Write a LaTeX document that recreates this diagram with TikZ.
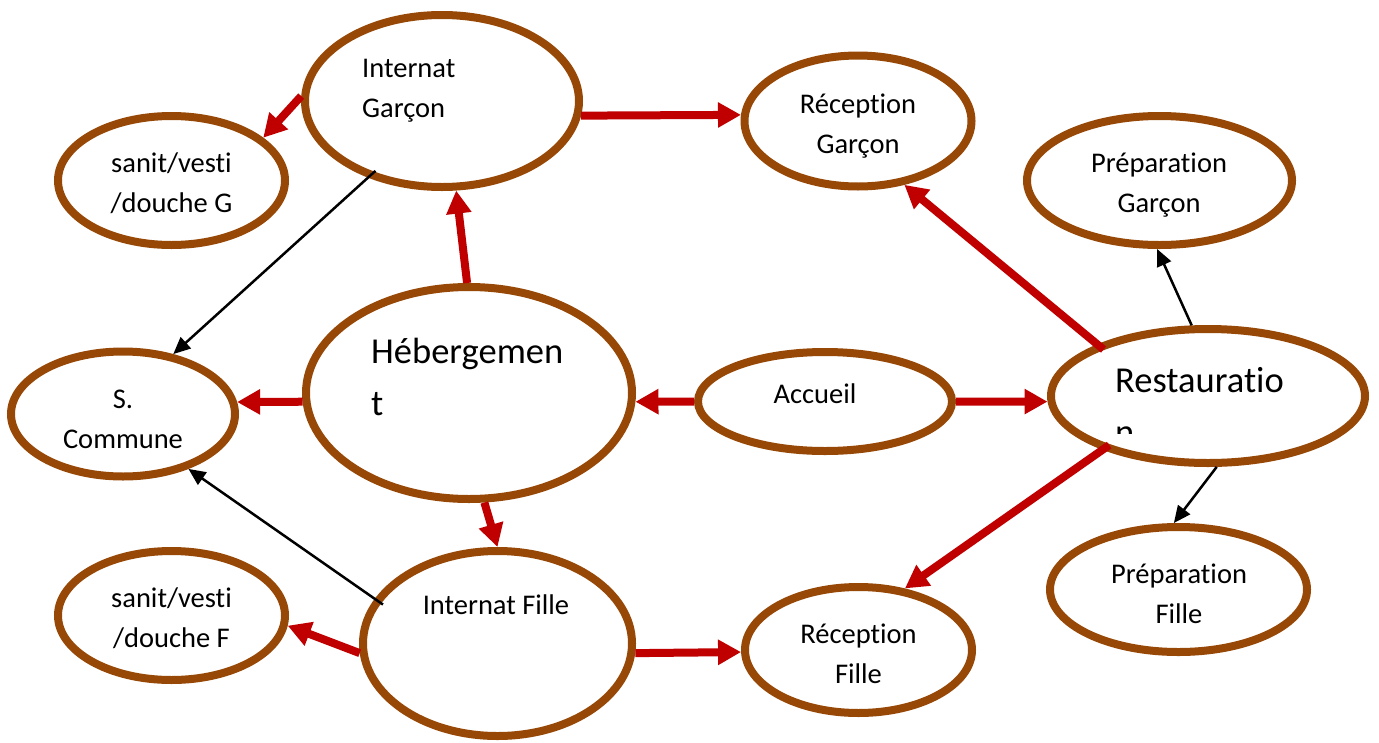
\documentclass[tikz,border=0pt]{standalone}
\usepackage{fontspec}
\setmainfont{Carlito}[Ligatures={NoCommon,NoRequired,NoContextual,NoDiscretionary}]
\usetikzlibrary{arrows.meta,shapes.geometric}
\definecolor{rim}{HTML}{974806}
\definecolor{flow}{HTML}{C00000}

\begin{document}
\begin{tikzpicture}[x=1pt,y=-1pt,
  room/.style={ellipse, draw=rim, line width=8pt, fill=white, inner sep=0pt},
  flowarrow/.style={draw=flow, line width=8pt, -{Triangle[length=23pt,width=24pt]}},
  linkarrow/.style={draw=black, line width=2.5pt, -{Triangle[length=17pt,width=15pt]}},
  small/.style={font=\fontsize{28.5}{40}\selectfont},
  big/.style={font=\fontsize{36.5}{52}\selectfont},
  lbl/.style={inner sep=0pt, anchor=base}
]
\useasboundingbox[fill=white] (0,0) rectangle (1379,742);

% rooms
\node[room, minimum width=274pt, minimum height=172pt] (intG)  at (442,101)   {};
\node[room, minimum width=227pt, minimum height=131pt] (recG)  at (858,121)   {};
\node[room, minimum width=227pt, minimum height=129pt] (sanG)  at (171.5,180.5) {};
\node[room, minimum width=265pt, minimum height=129pt] (prepG) at (1159.5,180.5) {};
\node[room, minimum width=224pt, minimum height=125pt] (comm)  at (123,414)   {};
\node[room, minimum width=326pt, minimum height=212pt] (heb)   at (469,393)   {};
\node[room, minimum width=254pt, minimum height=99pt]  (acc)   at (825,401.5) {};
\node[room, minimum width=314pt, minimum height=134pt] (rest)  at (1208,396)  {};
\node[room, minimum width=227pt, minimum height=129pt] (sanF)  at (171.5,615.5) {};
\node[room, minimum width=269pt, minimum height=185pt] (intF)  at (497.5,643.5) {};
\node[room, minimum width=227pt, minimum height=126pt] (recF)  at (858.5,650) {};
\node[room, minimum width=257pt, minimum height=125pt] (prepF) at (1178.5,589.5) {};

% labels
\node[lbl, small, anchor=base west] (tIntG) at (362,77) {\begin{tabular}[t]{@{}l@{}}Internat\\Garçon\end{tabular}};
\node[lbl, small] (tRecG)  at (858,113)   {\begin{tabular}[t]{@{}c@{}}Réception\\Garçon\end{tabular}};
\node[lbl, small] (tSanG)  at (171.5,172) {\begin{tabular}[t]{@{}c@{}}sanit/vesti\\/douche G\end{tabular}};
\node[lbl, small] (tPrepG) at (1159,172)  {\begin{tabular}[t]{@{}c@{}}Préparation\\Garçon\end{tabular}};
\node[lbl, small] (tComm)  at (123,408)   {\begin{tabular}[t]{@{}c@{}}S.\\Commune\end{tabular}};
\node[lbl, big, anchor=base west] (tHeb) at (371,363) {\begin{tabular}[t]{@{}l@{}}Hébergemen\\t\end{tabular}};
\node[lbl, small] (tAcc)   at (815,403)   {Accueil};
\begin{scope}
  \clip (1100,300) rectangle (1330,433);
  \node[lbl, big, anchor=base west] (tRest) at (1115,392) {\begin{tabular}[t]{@{}l@{}}Restauratio\\n\end{tabular}};
\end{scope}
\node[lbl, small] (tSanF)  at (171.5,607) {\begin{tabular}[t]{@{}c@{}}sanit/vesti\\/douche F\end{tabular}};
\node[lbl, small] (tIntF)  at (496,614)   {Internat Fille};
\node[lbl, small] (tRecF)  at (858.5,643) {\begin{tabular}[t]{@{}c@{}}Réception\\Fille\end{tabular}};
\node[lbl, small] (tPrepF) at (1179,583)  {\begin{tabular}[t]{@{}c@{}}Préparation\\Fille\end{tabular}};

% main flows
\draw[flowarrow] (intG.178) -- (sanG.25);
\draw[flowarrow] (intG.-6) -- (recG.177.5);
\draw[flowarrow] (heb.91.6) -- (intG.-81.5);
\draw[flowarrow] (heb.183) -- (comm.6);
\draw[flowarrow] (heb.-82) -- (intF.90);
\draw[flowarrow] (acc.180) -- (heb.-3);
\draw[flowarrow] (acc.0) -- (rest.182);
\draw[flowarrow, shorten <=-8pt] (rest.155.7) -- (recG.-54);
\draw[flowarrow, shorten <=-8pt] (rest.207.9) -- (recF.53);
\draw[flowarrow] (intF.184) -- (sanF.-5.7);
\draw[flowarrow] (intF.-4) -- (recF.181.5);

% secondary links
\draw[linkarrow, shorten <=-10pt] (intG.226.6) -- (comm.50.6);
\draw[linkarrow, shorten <=-10pt] (intF.160.7) -- (comm.-40.4);
\draw[linkarrow] (rest.103) -- (prepG.-92.8);
\draw[linkarrow] (rest.-83) -- (prepF.94);
\end{tikzpicture}
\end{document}
